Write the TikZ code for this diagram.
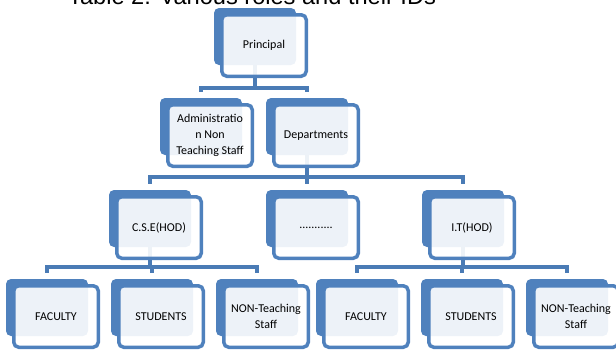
\documentclass[tikz,border=0pt]{standalone}
\usepackage{fontspec}
\setmainfont{Carlito}
\newfontfamily\titlefont{Liberation Sans}
\usetikzlibrary{calc}
\pgfdeclarelayer{bg}
\pgfsetlayers{bg,main}
\definecolor{boxblue}{HTML}{4F81BD}
\definecolor{connblue}{HTML}{4A7BB5}
\newcommand\orgbox[4]{%
  \node[backbox] (#1B) at (#2+41,#3+28.5) {};
  \node[frontbox] (#1) at (#2+50,#3+37.5) {#4};
}
\begin{document}
\begin{tikzpicture}[x=1pt,y=-1pt,
  backbox/.style={fill=boxblue, rounded corners=5pt, minimum width=82pt, minimum height=57pt, inner sep=0pt},
  frontbox/.style={draw=boxblue, line width=3.5pt, fill=white, fill opacity=0.9, text opacity=1,
     rounded corners=5pt, minimum width=84.5pt, minimum height=61.5pt, inner sep=1pt,
     align=center, font=\fontsize{12}{16}\selectfont, text=black},
  conn/.style={draw=connblue, line width=4.5pt}
]
\useasboundingbox (0,0) rectangle (616,349);
\clip (0,0) rectangle (616,349);
\node[anchor=base west, inner sep=0pt, font=\titlefont\fontsize{23.6}{26}\selectfont] (title) at (68,4) {Table 2: Various roles and their IDs};
% level 1
\orgbox{pr}{214}{8}{Principal}
% level 2
\orgbox{ad}{160}{98}{Administratio\\n Non\\Teaching Staff}
\orgbox{de}{266}{98}{Departments}
% level 3
\orgbox{cse}{109}{190}{C.S.E(HOD)}
\orgbox{dots}{266}{190}{...........}
\orgbox{it}{422}{190}{I.T(HOD)}
% level 4
\orgbox{fa}{6}{279}{FACULTY}
\orgbox{st}{111}{279}{STUDENTS}
\orgbox{nt}{216}{279}{NON-Teaching\\Staff}
\orgbox{fb}{316}{279}{FACULTY}
\orgbox{sb}{421}{279}{STUDENTS}
\orgbox{nb}{526}{279}{NON-Teaching\\Staff}
% connectors
\coordinate (bar1) at (0,88);
\coordinate (bar2) at (0,177);
\coordinate (bar3) at (0,267);
\begin{pgfonlayer}{bg}
\draw[conn] (prB.south) -- (prB.south |- bar1);
\draw[conn] ([yshift=6pt]adB.north) -- (adB.north |- bar1) -- (deB.north |- bar1) -- ([yshift=6pt]deB.north);
\draw[conn] (deB.south) -- (deB.south |- bar2);
\draw[conn] ([yshift=6pt]cseB.north) -- (cseB.north |- bar2) -- (itB.north |- bar2) -- ([yshift=6pt]itB.north);
\draw[conn] (dotsB.north |- bar2) -- ([yshift=6pt]dotsB.north);
\draw[conn] (cseB.south) -- (cseB.south |- bar3);
\draw[conn] ([yshift=6pt]faB.north) -- (faB.north |- bar3) -- (ntB.north |- bar3) -- ([yshift=6pt]ntB.north);
\draw[conn] (stB.north |- bar3) -- ([yshift=6pt]stB.north);
\draw[conn] (itB.south) -- (itB.south |- bar3);
\draw[conn] ([yshift=6pt]fbB.north) -- (fbB.north |- bar3) -- (nbB.north |- bar3) -- ([yshift=6pt]nbB.north);
\draw[conn] (sbB.north |- bar3) -- ([yshift=6pt]sbB.north);
\end{pgfonlayer}
\end{tikzpicture}
\end{document}
